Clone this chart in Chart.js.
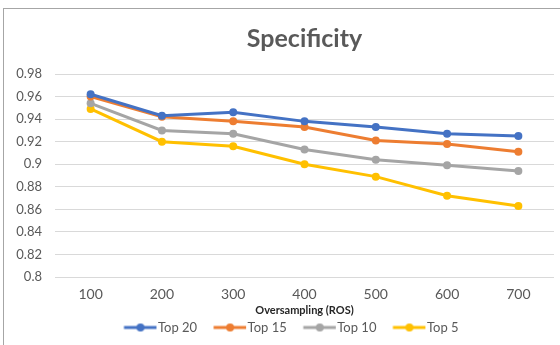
<!DOCTYPE html>
<html>
<head>
<meta charset="utf-8">
<script src="https://cdn.jsdelivr.net/npm/chart.js@4"></script>
<style>
  html, body { margin:0; padding:0; background:#ffffff; overflow:hidden; }
  #wrap { position:relative; width:560px; height:345px; overflow:hidden; }
  #frame { position:absolute; left:3px; top:8px; width:700px; height:500px;
           border-left:1px solid #a6a6a6; border-top:1px solid #a6a6a6; pointer-events:none; }
  canvas { position:absolute; left:0; top:0; }
</style>
</head>
<body>
<div id="wrap">
  <div id="frame"></div>
  <canvas id="c" width="560" height="345"></canvas>
</div>
<script>
const categories = ['100', '200', '300', '400', '500', '600', '700'];
const top20 = [0.962, 0.943, 0.946, 0.938, 0.933, 0.927, 0.925];
const top15 = [0.960, 0.942, 0.938, 0.933, 0.921, 0.918, 0.911];
const top10 = [0.954, 0.930, 0.927, 0.913, 0.904, 0.899, 0.894];
const top5  = [0.949, 0.920, 0.916, 0.900, 0.889, 0.872, 0.863];
const seriesNames = ['Top 20', 'Top 15', 'Top 10', 'Top 5'];
const yTickLabels = ['0.8', '0.82', '0.84', '0.86', '0.88', '0.9', '0.92', '0.94', '0.96', '0.98'];
const colors = ['#4472C4', '#ED7D31', '#A5A5A5', '#FFC000'];

// legend swatch: line with a dot, extending close to the label text
function legendImage(color) {
  const cv = document.createElement('canvas');
  cv.width = 52; cv.height = 10;
  const g = cv.getContext('2d');
  g.strokeStyle = color; g.lineWidth = 3; g.lineCap = 'butt';
  g.beginPath(); g.moveTo(18.5, 5); g.lineTo(51, 5); g.stroke();
  g.fillStyle = color;
  g.beginPath(); g.arc(35, 5, 4, 0, Math.PI * 2); g.fill();
  return cv;
}
const legendImgs = colors.map(legendImage);

const seriesData = [top20, top15, top10, top5];
const datasets = seriesData.map((d, i) => ({
  label: seriesNames[i],
  data: d,
  borderColor: colors[i],
  backgroundColor: colors[i],
  borderWidth: 3,
  pointRadius: 4,
  pointHoverRadius: 4,
  pointBorderWidth: 0,
  tension: 0,
  order: i
}));

const txt = '#595959';
new Chart(document.getElementById('c'), {
  type: 'line',
  data: { labels: categories, datasets: datasets },
  options: {
    responsive: false,
    animation: false,
    events: [],
    layout: { padding: { left: 16, right: 6, top: 0, bottom: 1 } },
    plugins: {
      title: {
        display: true,
        fullSize: false,
        text: 'Specificity',
        color: txt,
        font: { family: 'Lato', size: 25, weight: 'bold' },
        padding: { top: 24, bottom: 20 }
      },
      legend: {
        position: 'bottom',
        labels: {
          usePointStyle: true,
          pointStyleWidth: 40,
          color: txt,
          font: { family: 'Lato', size: 13 },
          padding: 4,
          boxHeight: 10,
          generateLabels: (chart) => chart.data.datasets.map((ds, i) => ({
            text: ds.label,
            pointStyle: legendImgs[i],
            fillStyle: ds.borderColor,
            strokeStyle: ds.borderColor,
            lineWidth: 0,
            fontColor: txt,
            hidden: false,
            datasetIndex: i
          }))
        }
      },
      tooltip: { enabled: false }
    },
    scales: {
      x: {
        offset: true,
        grid: { display: false },
        border: { display: false },
        ticks: { color: txt, font: { family: 'Lato', size: 14 }, padding: 1 },
        title: {
          display: true,
          text: 'Oversampling (ROS)',
          color: '#262626',
          font: { family: 'Lato', size: 11, weight: 'bold' },
          padding: { top: 0, bottom: 0 }
        }
      },
      y: {
        min: 0.8,
        max: 0.98,
        afterFit: (s) => { s.width = 39; },
        grid: { color: '#d9d9d9', lineWidth: 1, drawTicks: false },
        border: { display: false },
        ticks: {
          stepSize: 0.02,
          padding: 13,
          color: txt,
          font: { family: 'Lato', size: 13 },
          callback: (v) => {
            const idx = Math.round((v - 0.8) / 0.02);
            return yTickLabels[idx];
          }
        }
      }
    }
  }
});
</script>
</body>
</html>
